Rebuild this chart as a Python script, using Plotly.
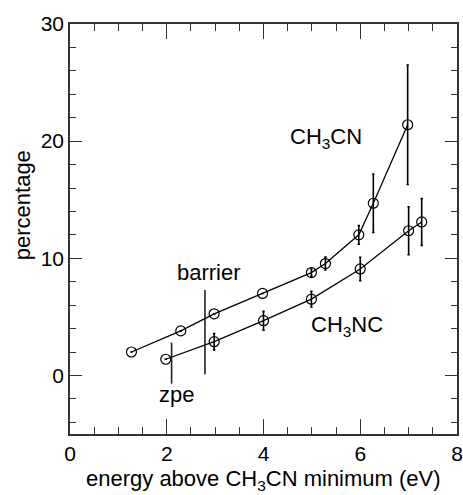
import plotly.graph_objects as go

# ---- DATA ----
cn_energy = [1.27, 2.29, 2.98, 3.98, 4.99, 5.28, 5.97, 6.27, 6.98]
cn_pct = [2.0, 3.8, 5.26, 7.0, 8.78, 9.55, 12.0, 14.7, 21.4]
cn_err = [0, 0, 0, 0, 0.3, 0.55, 0.8, 2.5, 5.1]

nc_energy = [1.98, 2.98, 4.0, 4.99, 6.0, 7.0, 7.27]
nc_pct = [1.38, 2.88, 4.67, 6.51, 9.09, 12.35, 13.1]
nc_err = [0, 0.7, 0.8, 0.67, 1.0, 2.05, 2.0]

barrier_x = [2.79, 2.79]
barrier_y = [0.1, 7.3]
zpe_x = [2.1, 2.1]
zpe_y = [-0.7, 2.8]

FONT = "Liberation Sans, Arial, sans-serif"

fig = go.Figure()

for xs, ys, err in [(cn_energy, cn_pct, cn_err), (nc_energy, nc_pct, nc_err)]:
    fig.add_trace(go.Scatter(
        x=xs, y=ys, mode="lines+markers",
        line=dict(color="black", width=1.3),
        marker=dict(symbol="circle-open", size=10, color="black", line=dict(width=1.2)),
        error_y=dict(type="data", array=err, visible=True, color="black",
                     thickness=1.6, width=1.2),
        showlegend=False,
    ))

for xs, ys in [(barrier_x, barrier_y), (zpe_x, zpe_y)]:
    fig.add_trace(go.Scatter(x=xs, y=ys, mode="lines",
                             line=dict(color="#222", width=1.6), showlegend=False))

# dummy trace so the mirrored (top/right) axes are drawn
fig.add_trace(go.Scatter(x=[None], y=[None], xaxis="x2", yaxis="y2",
                         showlegend=False, hoverinfo="skip"))

labels = [
    (2.88, 8.8, "barrier"),
    (2.2, -1.66, "zpe"),
    (5.3, 20.3, "CH<sub>3</sub>CN"),
    (5.72, 4.2, "CH<sub>3</sub>NC"),
]
for x, y, t in labels:
    fig.add_annotation(x=x, y=y, text=t, showarrow=False,
                       font=dict(size=22, color="black", family=FONT))

fig.add_annotation(xref="paper", yref="paper", x=-0.124, y=0.558, text="percentage",
                   textangle=-90, showarrow=False, xanchor="center", yanchor="middle",
                   font=dict(size=22, color="black", family=FONT))
fig.add_annotation(xref="paper", yref="paper", x=0.5, y=-0.112,
                   text="energy above CH<sub>3</sub>CN minimum (eV)", showarrow=False,
                   xanchor="center", yanchor="middle",
                   font=dict(size=22, color="black", family=FONT))

axis_common = dict(
    showgrid=False, zeroline=False, showline=True, linecolor="#333", linewidth=1.5,
    ticks="inside", tickcolor="#333", tickwidth=1.3, automargin=False,
    tickfont=dict(size=21, color="black", family=FONT),
)
x_ticks = dict(range=[0, 8], dtick=2, ticklen=15,
               minor=dict(dtick=0.5, ticks="inside", ticklen=7, tickcolor="#333"))
y_ticks = dict(range=[-5, 30], tickvals=[0, 10, 20, 30], ticklen=12,
               minor=dict(dtick=2, ticks="inside", ticklen=6, tickcolor="#333"))

fig.update_layout(
    width=463, height=495, autosize=False,
    margin=dict(l=70, r=6, t=24, b=61),
    plot_bgcolor="white", paper_bgcolor="white",
    font=dict(family=FONT),
    xaxis=dict(**axis_common, **x_ticks, ticklabeloverflow="allow"),
    yaxis=dict(**axis_common, **y_ticks),
    xaxis2=dict(**axis_common, **x_ticks, overlaying="x", side="top",
                showticklabels=False),
    yaxis2=dict(**axis_common, **y_ticks, overlaying="y", side="right",
                showticklabels=False),
)

# drop the default page margin so the figure sits at the window's corner
post = """
document.body.style.margin='0';
document.body.style.overflow='hidden';
Plotly.relayout(document.getElementById('{plot_id}'), {width: 463, height: 495});
"""

fig.write_html("out.html", config={"responsive": False, "displayModeBar": False},
               post_script=post)
